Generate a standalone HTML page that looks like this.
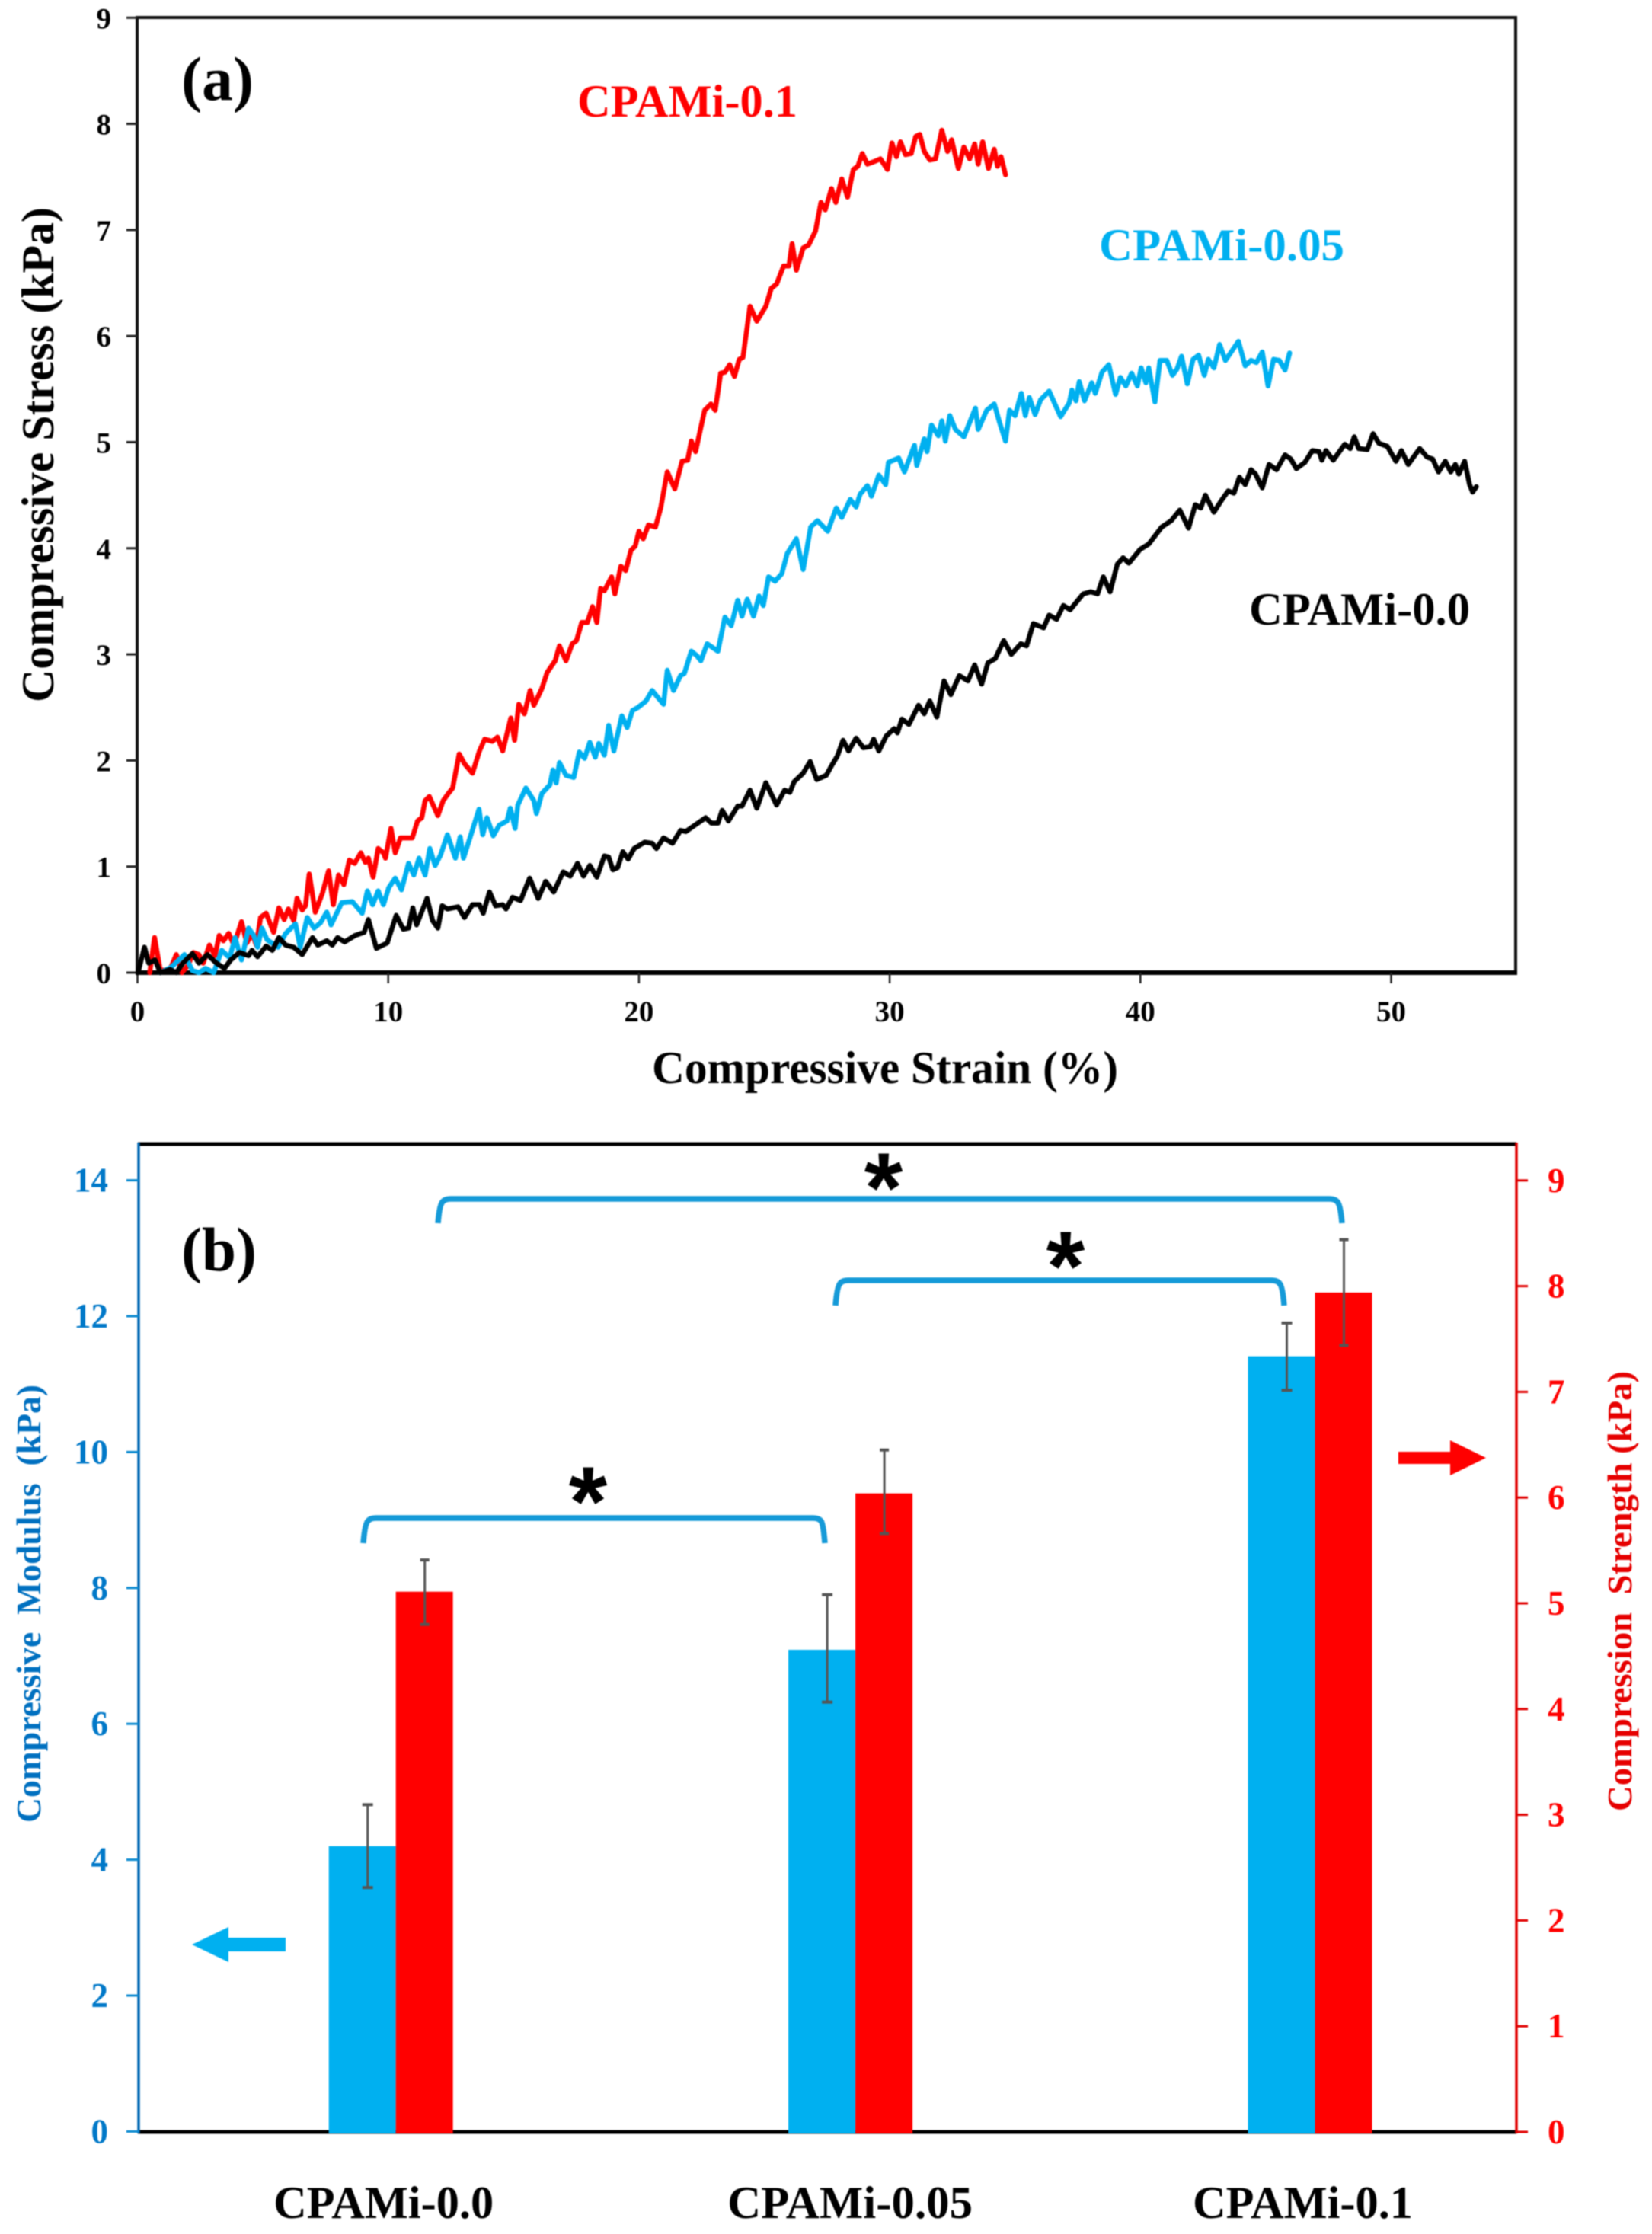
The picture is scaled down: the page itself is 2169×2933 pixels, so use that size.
<!DOCTYPE html>
<html lang="en">
<head>
<meta charset="utf-8">
<title>Compressive stress-strain curves and bar comparison</title>
<style>
html,body{margin:0;padding:0;background:#fff;}
svg{display:block;filter:blur(0.7px);}
text{font-family:"Liberation Serif",serif;font-weight:bold;white-space:pre;}
</style>
</head>
<body>
<svg id="fig" xmlns="http://www.w3.org/2000/svg" width="2169" height="2933" viewBox="0 0 2169 2933">
  <rect x="0" y="0" width="2169" height="2933" fill="#fff"/>
  <g id="panelA">
    <rect x="180" y="23" width="1810" height="1254" fill="none" stroke="#111" stroke-width="4"/>
    <line x1="178" y1="1277" x2="1992" y2="1277" stroke="#000" stroke-width="6"/>
    <g id="ticksA"></g>
    <g id="linesA"></g>
    <text x="238" y="131" font-size="82" fill="#000" textLength="95" lengthAdjust="spacingAndGlyphs">(a)</text>
    <text x="758" y="153" font-size="60" fill="#ff0000" textLength="289" lengthAdjust="spacingAndGlyphs">CPAMi-0.1</text>
    <text x="1443" y="342" font-size="60" fill="#00b0f0" textLength="322" lengthAdjust="spacingAndGlyphs">CPAMi-0.05</text>
    <text x="1640" y="820" font-size="60" fill="#000" textLength="290" lengthAdjust="spacingAndGlyphs">CPAMi-0.0</text>
    <text x="856" y="1422" font-size="60" fill="#000" textLength="612" lengthAdjust="spacingAndGlyphs">Compressive Strain (%)</text>
    <text transform="translate(70,922) rotate(-90)" font-size="60" fill="#000" textLength="650" lengthAdjust="spacingAndGlyphs">Compressive Stress (kPa)</text>
  </g>
  <g id="panelB">
    <line x1="181" y1="1502" x2="1991" y2="1502" stroke="#000" stroke-width="5"/>
    <line x1="181" y1="2799" x2="1991" y2="2799" stroke="#000" stroke-width="5"/>
    <line x1="182" y1="1500" x2="182" y2="2801" stroke="#0068b4" stroke-width="3.5"/>
    <line x1="1991" y1="1500" x2="1991" y2="2801" stroke="#e00000" stroke-width="3.5"/>
    <g id="ticksB"></g>
    <g id="barsB"></g>
    <g id="errorsB"></g>
    <g fill="none" stroke="#159ad8" stroke-width="7.5">
      <path d="M575 1606 Q577 1582 581 1578 Q584 1574 592 1574 L1745 1574 Q1753 1574 1756 1578 Q1760 1582 1762 1606"/>
      <path d="M1097 1714 Q1099 1689 1103 1685 Q1106 1681 1114 1681 L1669 1681 Q1677 1681 1680 1685 Q1684 1689 1686 1714"/>
      <path d="M477 2026 Q479 2001 483 1997 Q486 1993 494 1993 L1067 1993 Q1075 1993 1078 1997 Q1081 2001 1083 2026"/>
    </g>
    <g font-size="130" fill="#000" text-anchor="middle">
      <text x="1160" y="1604" style="font-family:'Liberation Sans',sans-serif;font-weight:bold">*</text>
      <text x="1399" y="1707" style="font-family:'Liberation Sans',sans-serif;font-weight:bold">*</text>
      <text x="772" y="2016" style="font-family:'Liberation Sans',sans-serif;font-weight:bold">*</text>
    </g>
    <polygon points="252,2553 300,2530 300,2544 375,2544 375,2562 300,2562 300,2576" fill="#00b0f0"/>
    <polygon points="1951,1914 1904,1891 1904,1906 1836,1906 1836,1922 1904,1922 1904,1937" fill="#ff0000"/>
    <text x="238" y="1668" font-size="82" fill="#000" textLength="99" lengthAdjust="spacingAndGlyphs">(b)</text>
    <text transform="translate(53,2393) rotate(-90)" font-size="46" fill="#0070c0" textLength="575" lengthAdjust="spacingAndGlyphs">Compressive  Modulus  (kPa)</text>
    <text transform="translate(2142,2378) rotate(-90)" font-size="46" fill="#e60000" textLength="578" lengthAdjust="spacingAndGlyphs">Compression  Strength (kPa)</text>
  </g>
</svg>
<script>
// ---------- Panel (a) data ----------
const strainRed = [0.49,0.68,0.91,1.30,1.55,1.77,2.02,2.23,2.45,2.62,2.87,3.09,3.26,3.43,3.64,3.85,4.15,4.36,4.57,4.74,4.91,5.13,5.43,5.64,5.85,6.02,6.23,6.36,6.57,6.70,6.85,7.09,7.38,7.62,7.81,8.02,8.23,8.45,8.66,8.91,9.09,9.21,9.40,9.60,9.81,9.89,10.11,10.28,10.49,10.96,11.17,11.34,11.47,11.64,11.98,12.19,12.40,12.57,12.83,13.04,13.36,13.64,13.85,14.15,14.36,14.57,14.89,15.04,15.21,15.43,15.66,15.81,16.13,16.34,16.66,16.83,17.09,17.34,17.51,17.72,17.94,18.15,18.32,18.47,18.62,18.91,19.04,19.28,19.47,19.68,19.85,20.00,20.17,20.38,20.66,20.87,21.13,21.43,21.72,21.94,22.09,22.26,22.45,22.62,22.87,23.04,23.26,23.43,23.62,23.81,24.00,24.15,24.43,24.70,25.06,25.28,25.49,25.77,25.98,26.11,26.28,26.55,26.77,27.04,27.26,27.43,27.68,27.85,28.09,28.32,28.55,28.73,28.91,29.11,29.34,29.63,29.91,30.09,30.27,30.43,30.63,30.86,31.04,31.20,31.38,31.60,31.83,32.08,32.31,32.47,32.74,32.96,33.19,33.39,33.53,33.71,33.94,34.17,34.30,34.44,34.62];
const stressRed = [0,0.33,0.02,0.03,0.17,0,0.07,0.19,0.17,0.09,0.26,0.16,0.35,0.30,0.37,0.26,0.48,0.28,0.37,0.26,0.52,0.56,0.38,0.61,0.50,0.60,0.49,0.70,0.59,0.63,0.93,0.57,0.75,0.96,0.64,0.92,0.83,1.06,1.03,1.13,1.04,1.08,0.90,1.17,1.13,1.08,1.36,1.13,1.27,1.27,1.43,1.46,1.62,1.66,1.48,1.62,1.69,1.74,2.06,1.97,1.88,2.09,2.20,2.18,2.22,2.09,2.40,2.19,2.53,2.44,2.66,2.52,2.68,2.83,2.94,3.08,2.94,3.10,3.13,3.30,3.30,3.45,3.30,3.62,3.60,3.73,3.57,3.83,3.79,3.98,4.02,4.16,4.09,4.22,4.20,4.38,4.72,4.56,4.82,4.83,5.01,4.91,5.12,5.30,5.36,5.30,5.65,5.66,5.73,5.62,5.78,5.80,6.28,6.14,6.28,6.45,6.49,6.66,6.66,6.87,6.62,6.83,6.86,6.99,7.26,7.19,7.39,7.26,7.48,7.31,7.57,7.60,7.72,7.62,7.64,7.67,7.57,7.82,7.69,7.83,7.71,7.72,7.88,7.90,7.74,7.66,7.67,7.94,7.74,7.85,7.58,7.78,7.67,7.81,7.62,7.83,7.58,7.76,7.60,7.69,7.52];

const strainCyan = [0.91,1.34,1.87,2.19,2.45,2.72,3.04,3.36,3.68,3.89,4.15,4.43,4.64,4.79,4.96,5.17,5.60,5.91,6.30,6.49,6.77,7.04,7.30,7.55,7.72,8.15,8.57,8.96,9.17,9.38,9.60,9.81,10.02,10.28,10.53,10.81,11.02,11.23,11.47,11.66,11.87,12.09,12.36,12.68,12.87,13.00,13.26,13.62,13.77,13.94,14.19,14.43,14.74,14.87,15.06,15.17,15.49,15.81,15.91,16.13,16.45,16.57,16.70,16.83,17.09,17.40,17.62,17.83,18.04,18.26,18.40,18.62,18.79,19.00,19.32,19.53,19.74,19.96,20.28,20.53,20.70,20.98,21.13,21.38,21.66,21.81,22.09,22.30,22.47,22.72,23.15,23.43,23.68,23.94,24.11,24.32,24.57,24.79,24.96,25.17,25.43,25.70,25.91,26.28,26.55,26.85,27.12,27.53,27.87,28.09,28.43,28.66,28.82,29.11,29.27,29.57,29.84,29.95,30.36,30.59,30.99,31.08,31.38,31.49,31.67,31.94,32.08,32.22,32.40,32.62,32.96,33.42,33.53,33.87,34.17,34.39,34.62,34.78,35.00,35.25,35.41,35.57,35.80,36.02,36.36,36.59,36.82,37.16,37.27,37.43,37.56,37.77,38.06,38.20,38.47,38.74,39.01,39.20,39.42,39.65,39.88,40.03,40.22,40.33,40.58,40.78,41.05,41.28,41.46,41.64,41.87,42.10,42.32,42.55,42.71,42.93,43.16,43.39,43.91,44.18,44.41,44.63,44.86,45.09,45.31,45.54,45.77,45.95];
const stressCyan = [0,0.05,0.17,0.02,0,0.04,0,0.21,0.14,0.33,0.12,0.42,0.35,0.24,0.42,0.31,0.24,0.37,0.46,0.24,0.52,0.42,0.47,0.57,0.45,0.66,0.67,0.56,0.77,0.64,0.77,0.64,0.80,0.89,0.78,1.03,0.92,1.08,0.92,1.17,1.01,1.11,1.30,1.08,1.28,1.08,1.27,1.54,1.30,1.46,1.29,1.39,1.43,1.55,1.36,1.58,1.74,1.62,1.50,1.69,1.77,1.91,1.79,1.98,1.86,1.84,2.08,2.02,2.17,2.03,2.16,2.05,2.33,2.09,2.42,2.31,2.47,2.50,2.56,2.66,2.61,2.53,2.85,2.66,2.80,2.82,3.03,2.99,2.94,3.10,3.03,3.35,3.27,3.51,3.36,3.52,3.36,3.55,3.46,3.73,3.69,3.76,3.95,4.09,3.80,4.20,4.26,4.16,4.38,4.29,4.46,4.39,4.51,4.59,4.49,4.69,4.60,4.81,4.85,4.72,4.97,4.78,5.03,4.91,5.16,5.06,5.20,5.01,5.25,5.12,5.05,5.32,5.12,5.30,5.36,5.18,5.01,5.30,5.25,5.46,5.25,5.42,5.26,5.40,5.48,5.36,5.24,5.37,5.49,5.39,5.57,5.39,5.56,5.46,5.66,5.73,5.45,5.61,5.53,5.65,5.53,5.70,5.56,5.70,5.38,5.77,5.77,5.63,5.69,5.81,5.55,5.78,5.82,5.63,5.78,5.70,5.92,5.77,5.95,5.72,5.77,5.75,5.85,5.53,5.78,5.77,5.68,5.84];

const strainBlack = [0.02,0.28,0.45,0.70,0.91,1.30,1.55,1.81,2.19,2.45,2.79,3.15,3.47,3.72,4.06,4.43,4.57,4.79,5.13,5.38,5.64,5.91,6.23,6.57,6.98,7.19,7.55,7.77,7.98,8.26,8.68,9.04,9.21,9.53,9.96,10.32,10.60,10.81,10.98,11.13,11.55,11.77,11.98,12.15,12.36,12.79,13.04,13.36,13.64,13.79,14.04,14.28,14.57,14.70,14.96,15.28,15.64,15.98,16.28,16.60,16.98,17.26,17.55,17.79,18.04,18.32,18.62,18.79,18.96,19.15,19.36,19.57,19.81,20.23,20.53,20.70,20.98,21.34,21.66,21.87,22.23,22.66,22.89,23.15,23.32,23.57,23.94,24.11,24.43,24.70,25.06,25.49,25.81,26.02,26.19,26.55,26.83,27.09,27.47,27.68,27.91,28.14,28.36,28.66,28.95,29.23,29.36,29.57,29.86,30.18,30.31,30.49,30.77,31.15,31.38,31.60,31.88,32.17,32.44,32.78,33.12,33.39,33.67,33.92,34.21,34.55,34.85,35.23,35.46,35.73,36.14,36.36,36.66,36.93,37.20,37.72,38.02,38.29,38.52,38.79,39.08,39.31,39.54,39.99,40.33,40.56,40.85,41.23,41.57,41.92,42.19,42.41,42.59,42.93,43.23,43.50,43.73,43.95,44.18,44.41,44.59,44.86,45.13,45.43,45.77,46.00,46.22,46.56,46.86,47.13,47.24,47.40,47.69,48.15,48.37,48.53,48.71,49.05,49.28,49.51,49.85,50.19,50.41,50.68,51.14,51.43,51.66,51.89,52.16,52.38,52.56,52.70,52.93,53.13,53.25,53.40];
const stressBlack = [0,0.24,0.09,0.12,0,0.03,0,0.09,0.18,0.09,0.17,0.09,0.04,0.12,0.19,0.16,0.21,0.15,0.25,0.21,0.33,0.26,0.24,0.17,0.33,0.26,0.30,0.26,0.33,0.29,0.35,0.38,0.50,0.23,0.28,0.54,0.41,0.42,0.61,0.45,0.70,0.49,0.42,0.63,0.60,0.62,0.52,0.64,0.64,0.56,0.76,0.63,0.64,0.60,0.71,0.68,0.89,0.70,0.86,0.76,0.95,0.91,1.03,0.91,1.01,0.90,1.10,1.09,0.97,0.99,1.14,1.07,1.17,1.23,1.22,1.17,1.27,1.22,1.34,1.33,1.39,1.46,1.41,1.41,1.53,1.43,1.57,1.57,1.72,1.55,1.79,1.58,1.72,1.70,1.80,1.88,1.99,1.82,1.86,1.95,2.04,2.19,2.09,2.21,2.12,2.13,2.20,2.09,2.23,2.30,2.26,2.39,2.34,2.52,2.44,2.56,2.41,2.75,2.62,2.80,2.75,2.90,2.72,2.92,2.96,3.13,3.00,3.10,3.08,3.29,3.25,3.37,3.33,3.46,3.42,3.57,3.59,3.57,3.73,3.59,3.85,3.91,3.86,3.99,4.04,4.11,4.20,4.26,4.36,4.19,4.41,4.38,4.50,4.34,4.45,4.54,4.52,4.67,4.60,4.74,4.70,4.57,4.79,4.74,4.88,4.84,4.75,4.81,4.92,4.91,4.83,4.92,4.83,4.98,4.94,5.05,4.94,4.93,5.08,4.99,4.96,4.82,4.92,4.79,4.94,4.86,4.84,4.72,4.82,4.72,4.79,4.70,4.82,4.60,4.53,4.58];

const xTicksA = [0,10,20,30,40,50];
const yTicksA = [0,1,2,3,4,5,6,7,8,9];

// ---------- Panel (b) data ----------
const categories = ["CPAMi-0.0","CPAMi-0.05","CPAMi-0.1"];
const modulus = [4.2,7.09,11.41];
const modulusErrLow = [3.59,6.32,10.91];
const modulusErrHigh = [4.81,7.9,11.9];
const strength = [5.11,6.04,7.94];
const strengthErrLow = [4.8,5.66,7.44];
const strengthErrHigh = [5.41,6.45,8.44];
const yTicksModulus = [0,2,4,6,8,10,12,14];
const yTicksStrength = [0,1,2,3,4,5,6,7,8,9];

// ---------- Axis functions ----------
const xA = function(v){ return 180.5 + 32.92 * v; };
const yA = function(v){ return 1277 - 139.3 * v; };
const yMod = function(v){ return 2798.4 - 89.2 * v; };
const yStr = function(v){ return 2799 - 138.8 * v; };
const bandCentre = function(i){ return 181 + 603.4 * (i + 0.5); };

const NS = "http://www.w3.org/2000/svg";
function mk(tag, attrs, parent, txt){
  const el = document.createElementNS(NS, tag);
  for (const k in attrs) el.setAttribute(k, attrs[k]);
  if (txt !== undefined) el.textContent = txt;
  parent.appendChild(el);
  return el;
}
const ticksA = document.getElementById("ticksA");
const linesA = document.getElementById("linesA");
const ticksB = document.getElementById("ticksB");
const barsB = document.getElementById("barsB");
const errorsB = document.getElementById("errorsB");

// Panel (a) ticks
xTicksA.forEach(function(t){
  const tk = mk("line",{x1:xA(t),y1:1277,x2:xA(t),y2:1291,stroke:"#222","stroke-width":2.5},ticksA);
  
  
  const lb = mk("text",{x:xA(t),y:1341,"font-size":39,fill:"#000","text-anchor":"middle"},ticksA,String(t));
  
  
});
yTicksA.forEach(function(t){
  const tk = mk("line",{x1:166,y1:yA(t),x2:180,y2:yA(t),stroke:"#222","stroke-width":3},ticksA);
  
  
  const lb = mk("text",{x:146,y:yA(t)+14,"font-size":39,fill:"#000","text-anchor":"end"},ticksA,String(t));
  
  
});

// Panel (a) curves
function curvePoints(xs, ys){
  return xs.map(function(x,i){ return xA(x).toFixed(1)+","+yA(ys[i]).toFixed(1); }).join(" ");
}
const curveRed = mk("polyline",{points:curvePoints(strainRed,stressRed),fill:"none",stroke:"#ff0000","stroke-width":6.5,"stroke-linejoin":"round","stroke-linecap":"round"},linesA);


const curveCyan = mk("polyline",{points:curvePoints(strainCyan,stressCyan),fill:"none",stroke:"#00b0f0","stroke-width":6.5,"stroke-linejoin":"round","stroke-linecap":"round"},linesA);


const curveBlack = mk("polyline",{points:curvePoints(strainBlack,stressBlack),fill:"none",stroke:"#000","stroke-width":6.5,"stroke-linejoin":"round","stroke-linecap":"round"},linesA);



// Panel (b) ticks
yTicksModulus.forEach(function(t){
  const tk = mk("line",{x1:166,y1:yMod(t),x2:182,y2:yMod(t),stroke:"#0b8ad0","stroke-width":3},ticksB);
  
  
  const lb = mk("text",{x:142,y:yMod(t)+15,"font-size":45,fill:"#0078c8","text-anchor":"end"},ticksB,String(t));
  
  
});
yTicksStrength.forEach(function(t){
  const tk = mk("line",{x1:1991,y1:yStr(t),x2:2006,y2:yStr(t),stroke:"#e00000","stroke-width":3},ticksB);
  
  
  const lb = mk("text",{x:2032,y:yStr(t)+15,"font-size":45,fill:"#ff0000"},ticksB,String(t));
  
  
});

// Panel (b) bars, error bars, category labels
function errorBar(cx, capHalf, yLow, yHigh, name){
  const g = mk("g",{stroke:"#555"},errorsB);
  
  
  mk("line",{x1:cx,y1:yHigh,x2:cx,y2:yLow,"stroke-width":3},g);
  mk("line",{x1:cx-capHalf,y1:yHigh,x2:cx+capHalf,y2:yHigh,"stroke-width":4},g);
  mk("line",{x1:cx-capHalf,y1:yLow,x2:cx+capHalf,y2:yLow,"stroke-width":4},g);
}
categories.forEach(function(cat,i){
  const c = bandCentre(i);
  const barM = mk("rect",{x:c-51,y:yMod(modulus[i]),width:88,height:2801-yMod(modulus[i]),fill:"#00b0f0"},barsB);
  
  
  const barS = mk("rect",{x:c+37,y:yStr(strength[i]),width:75,height:2801-yStr(strength[i]),fill:"#ff0000"},barsB);
  
  
  errorBar(c,7,yMod(modulusErrLow[i]),yMod(modulusErrHigh[i]),'error-bar-modulus');
  errorBar(c+75,6,yStr(strengthErrLow[i]),yStr(strengthErrHigh[i]),'error-bar-strength');
  const lb = mk("text",{x:c+(cat.length > 9 ? 30 : 21),y:2912,"font-size":60,fill:"#000","text-anchor":"middle"},barsB,cat);
  
  
  lb.setAttribute('textLength', cat.length > 9 ? 322 : 289);
  lb.setAttribute('lengthAdjust', 'spacingAndGlyphs');
});
</script>
</body>
</html>
